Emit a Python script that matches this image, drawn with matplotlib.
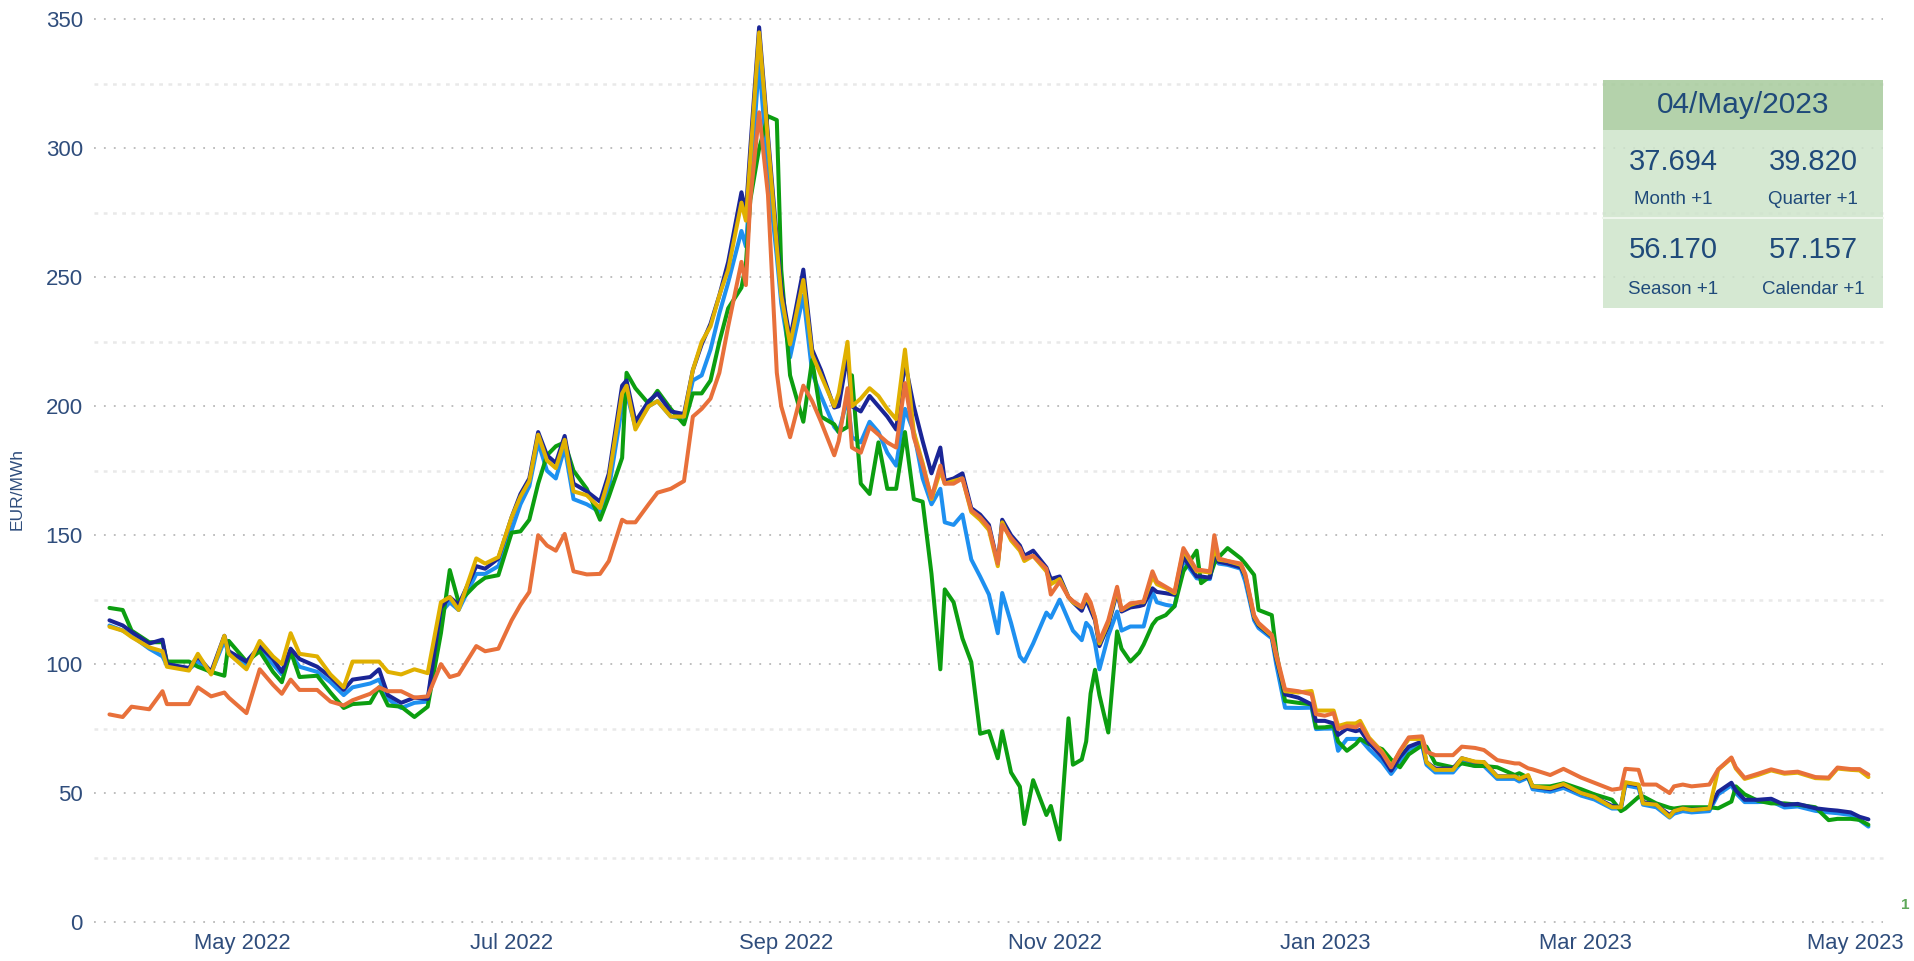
import matplotlib
matplotlib.use('Agg')
import matplotlib.pyplot as plt
from matplotlib.patches import Rectangle
from matplotlib.lines import Line2D
import pandas as pd

plt.rcParams['font.family'] = ['Liberation Sans', 'DejaVu Sans']

# ---------------- data ----------------
BASE_DATE = '2022-05-01'
day_offset = [
    -30, -27, -25, -21, -18, -17, -12, -10, -7, -4, -3, 1, 4, 7, 9, 11, 13, 17, 20, 23, 25, 29, 31, 33, 36, 39, 42,
    45, 47, 49, 53, 55, 58, 61, 63, 65, 67, 69, 71, 73, 75, 78, 81, 83, 86, 87, 89, 92, 94, 97, 100, 102, 104, 106, 108, 110, 113, 114, 115, 117, 119, 121, 122, 124, 127, 129, 131,
    134, 135, 137, 138, 140, 142, 144, 146, 148, 150, 152, 154, 156, 158, 159, 161, 163, 165, 167, 169, 171, 172, 174, 176, 177, 179, 182, 183, 185, 187, 188, 190, 191, 192, 193, 194, 196,
    198, 199, 201, 203, 204, 206, 207, 209, 211, 213, 216, 217, 219, 220, 221, 223, 226, 227, 229, 230, 233, 234, 236, 239, 242, 243, 245, 247, 248, 250, 252, 253, 255, 258, 260, 262, 264, 267,
    268, 270, 274, 276, 279, 281, 284, 288, 289, 291, 292, 296, 299, 303, 306, 310, 312, 313, 316, 317, 320, 323, 324, 326, 328, 332, 334, 337, 338, 340, 343, 346, 349, 352, 356, 359, 361, 364, 366, 368,
]

green = [
    121.8, 121, 113, 108.5, 108.5, 101, 101, 99, 97, 95.5, 109, 101, 105, 97, 93, 105, 95, 95.5, 89, 83, 84.5, 85, 91, 84, 83.5, 79.5, 83.5,
    112, 136.5, 124, 131, 133.5, 134.5, 151, 151.5, 156, 170, 181, 184.5, 186, 175, 168, 156, 165, 180, 213, 207, 201, 206, 199, 193, 205, 205, 210, 225, 238, 246, 255, 280, 300, 312.5, 311, 253, 212, 194, 218, 196,
    193, 190, 192, 212, 170, 166, 186, 168, 168, 190, 164, 163, 135, 98, 129, 124, 110, 100.8, 73, 74, 63.5, 74, 58, 52.5, 38, 55, 41.5, 45, 32, 79, 61, 63, 70, 88.6, 97.8, 88, 73.5,
    112.7, 106, 101, 104.5, 107.6, 115.3, 117.5, 119, 122.5, 136, 144, 131.4, 134, 139, 141.5, 145, 141, 139, 134.6, 121, 119, 105, 85.7, 85, 84.4, 75.4, 75.5, 76, 70, 66.4, 69, 71, 69, 67, 63, 60, 65, 68.5,
    68, 61.5, 60, 61.5, 60.5, 60.5, 60, 57, 57.7, 56, 52.6, 52.6, 53.8, 51.5, 49.5, 47.4, 43, 44, 48.5, 48.7, 46, 44.3, 44, 44.5, 44.5, 44.5, 44.1, 46.7, 52.6, 49.5, 47, 46, 46, 45.5, 44.5, 39.5, 40, 40, 39.6, 37.7,
]

dark_blue = [
    117, 115, 112.5, 108, 109.5, 100, 98.5, 103, 97, 111, 105, 101, 107, 102, 97, 106, 102, 99, 95, 90, 94, 95, 98, 88, 85, 87, 86.5,
    122, 126, 123, 138, 137, 141, 157, 166, 172, 190, 181, 178, 188.5, 170, 167, 163, 174, 208, 210, 194, 202, 205, 198, 197, 214, 224, 232, 243, 256, 283, 275, 300, 347, 305, 265, 246, 226, 253, 222, 214,
    199.5, 200, 220, 200, 198, 204, 200, 196, 191, 217, 200, 186.5, 174, 184, 171, 172, 174, 160.5, 158, 154, 139, 156, 150, 146, 142, 144, 137.5, 133, 134, 126, 124, 120.7, 125, 121, 117, 107, 115,
    128, 120.4, 122, 122.5, 123, 129.4, 128, 127.5, 126.9, 141.6, 134, 134, 133.5, 143, 139.7, 139, 137.5, 134, 118, 115, 110.7, 102, 88.3, 87, 84.4, 78, 78, 77, 72.5, 75, 74, 74.5, 69.5, 64, 58.7, 64, 68, 70,
    62, 59.5, 59.5, 63.5, 62, 62, 56.5, 56.5, 55.5, 56.5, 52.5, 51.5, 53, 50, 48.5, 45, 44.5, 54, 53, 46.5, 45.5, 41.5, 43, 44, 43.5, 44, 50.5, 54, 51, 47.4, 47.4, 47.8, 45.4, 45.8, 44.1, 43.5, 43.2, 42.5, 40.8, 39.8,
]

light_blue = [
    115, 113, 111, 106, 103, 99.5, 98, 101, 96.5, 109, 104, 100, 106, 100, 96, 104, 99, 97, 93, 88, 91, 92.5, 94, 86.5, 83, 85, 85.5,
    120, 124, 121, 135, 135, 138, 152, 162, 169, 186, 175, 172, 184, 164, 162, 159, 168, 200, 205, 192, 200, 202, 196, 195, 210, 212, 222, 236, 248, 268, 262, 285, 334, 290, 258, 240, 219, 243, 213, 204,
    192, 190, 203, 188, 186, 194, 190, 182, 177, 199, 190, 172, 162, 168, 155, 154, 158, 140.6, 134, 127, 112, 127.6, 116, 103, 101, 108, 120, 118, 125, 117, 113, 109.3, 116, 114, 108, 98, 111,
    120.4, 113, 114.6, 114.6, 114.6, 128, 124, 123, 122.4, 140.4, 133.3, 133, 133, 142, 139, 138.5, 137, 132, 117, 114, 110, 100, 83.1, 83, 83.1, 74.8, 75, 75, 66.4, 71, 71, 71, 67, 62, 57.4, 62, 67, 68.5,
    61, 58, 58, 62, 60.5, 60.5, 55.5, 55.5, 54.5, 56, 51.5, 50.5, 52, 49, 47.5, 44, 44, 53, 52, 45.5, 44.5, 40.5, 42, 43, 42.5, 43, 49.5, 53, 50, 46.5, 46.5, 46.8, 44.4, 44.8, 43.1, 42.5, 42.2, 41.5, 39.5, 37.0,
]

gold = [
    114.5, 113, 110.5, 106.5, 105, 99, 97.5, 104, 96, 111, 104, 98, 109, 103, 100, 112, 104, 103, 96, 91, 101, 101, 101, 97, 96, 98, 96.5,
    124, 126, 121, 141, 139, 141.5, 157, 165, 171, 189, 179, 176, 187, 167, 165.5, 160.5, 172, 205, 208, 191, 200, 202, 196, 196, 214, 225, 231, 243, 253, 279, 272, 296, 345, 303, 262, 243, 224, 249, 220, 212,
    200, 205, 225, 200, 203, 207, 204, 199, 195, 222, 190, 178, 164, 175, 170, 171, 172, 159, 156, 152, 138, 155, 148, 144, 140, 142, 136, 131, 133, 126, 124, 122, 126, 123, 118, 108, 116,
    129, 121, 123, 124, 124, 134, 131, 129.5, 127.5, 144, 136, 136, 135.5, 145, 140.5, 140, 138.5, 134.5, 118.5, 115.5, 111, 103, 89.5, 89, 89.6, 82, 82, 82, 76, 77, 77, 78, 71.5, 66, 60.5, 66, 71, 71,
    62, 59, 59, 63.5, 62.2, 62, 56.4, 56.5, 55.5, 57, 52.6, 51.9, 53.5, 50, 48.5, 44.5, 44.5, 54.2, 53.3, 46, 45.5, 40.8, 43, 44, 43.4, 44, 59, 63.5, 59.5, 55.5, 57, 58.8, 57.5, 57.9, 55.8, 55.6, 59.5, 59, 58.8, 56.2,
]

orange = [
    80.5, 79.5, 83.5, 82.5, 89.5, 84.5, 84.5, 91, 87.5, 89, 87, 81, 98, 92, 88.5, 94, 90, 90, 85.5, 84, 86, 88.5, 91, 89.5, 89.5, 87, 87.5,
    100, 95, 96, 107, 105, 106, 117, 123, 128, 150, 146, 144, 150.5, 136, 134.8, 135, 140, 156, 155, 155, 162, 166.5, 168, 171, 196, 199, 203, 213, 231, 256, 247, 280, 314, 282, 213, 200, 188, 208, 202, 194,
    181, 186.5, 207, 184, 182, 192, 189, 186, 184, 209, 188, 177, 164.5, 177, 170, 170, 172, 159.7, 157, 153, 139, 154, 149, 145, 141, 142, 137, 127, 132, 126, 124.5, 122.2, 127, 124, 118, 109, 117,
    130, 121, 123.6, 124, 124.3, 136, 132, 130, 128, 145, 136.5, 136.5, 136, 150, 141, 140, 139, 135, 119, 116, 111.4, 104, 90.2, 89.5, 88.3, 80.6, 80, 81, 74.8, 76, 75.5, 76.7, 70.9, 65.5, 60, 66.4, 71.6, 72,
    66, 64.7, 64.7, 68, 67.5, 66.7, 62.8, 61.5, 61.5, 59.6, 59.2, 57, 59.4, 56, 54, 51.3, 51.8, 59.4, 59, 53.3, 53.3, 50, 52.6, 53.3, 52.6, 53.3, 59.2, 63.8, 60, 55.9, 57.5, 59.2, 57.9, 58.3, 56.2, 56, 59.9, 59.3, 59.3, 57.2,
]

y_ticks = [0, 50, 100, 150, 200, 250, 300, 350]
y_minor_ticks = [25, 75, 125, 175, 225, 275, 325]
x_tick_dates = ['2022-05-01', '2022-07-01', '2022-09-01', '2022-11-01', '2023-01-01', '2023-03-01', '2023-05-01']
x_tick_labels = ['May 2022', 'Jul 2022', 'Sep 2022', 'Nov 2022', 'Jan 2023', 'Mar 2023', 'May 2023']
y_label = 'EUR/MWh'
box_date = '04/May/2023'
box_values = ['37.694', '39.820', '56.170', '57.157']
box_labels = ['Month +1', 'Quarter +1', 'Season +1', 'Calendar +1']

# ---------------- figure ----------------
W, H = 1915, 961
fig = plt.figure(figsize=(W / 100, H / 100), dpi=100)
fig.patch.set_facecolor('white')


def fx(x):
    return x / W


def fy(y):
    return 1 - y / H


ax_left, ax_right, ax_top, ax_bottom = 94, 1883, 19.5, 922
ax = fig.add_axes([fx(ax_left), fy(ax_bottom), (ax_right - ax_left) / W, (ax_bottom - ax_top) / H])

base = pd.Timestamp(BASE_DATE)
dates = base + pd.to_timedelta(day_offset, unit='D')

series = [
    (light_blue, '#1e90f0', 3),
    (green, '#0c9e10', 4),
    (dark_blue, '#1a2596', 5),
    (gold, '#e0b000', 6),
    (orange, '#e8703a', 7),
]
for vals, col, z in series:
    ax.plot(dates, vals, color=col, lw=2.9, solid_joinstyle='round', solid_capstyle='round',
            zorder=z, clip_on=False)

ax.set_ylim(0, 350)
ax.set_xlim(base + pd.Timedelta(days=-33.5), base + pd.Timedelta(days=371.3))

for v in y_ticks:
    ax.axhline(v, color='#b9b9b9', lw=1.3, linestyle=(0, (1, 4.5)), zorder=1, clip_on=False)
for v in y_minor_ticks:
    ax.axhline(v, color='#e9e9e9', lw=1.8, linestyle=(0, (1.5, 2.2)), zorder=1, clip_on=False)

ax.set_yticks(y_ticks)
ax.set_yticklabels([str(v) for v in y_ticks])
ax.set_xticks(pd.to_datetime(x_tick_dates))
ax.set_xticklabels(x_tick_labels)
tick_col = '#2f4d7c'
ax.tick_params(axis='y', length=0, pad=8, labelsize=16, labelcolor=tick_col)
ax.tick_params(axis='x', length=0, pad=8, labelsize=15.8, labelcolor=tick_col)
for s in ax.spines.values():
    s.set_visible(False)
ax.set_facecolor('none')

fig.text(fx(17), fy(489), y_label, rotation=90, ha='center', va='center',
         fontsize=12.5, color=tick_col)

# ---------------- info box ----------------
bx0, bx1, by_top, by_head, by_div, by_bot = 1603, 1883, 80, 130, 218, 308
fig.patches.append(Rectangle((fx(bx0), fy(by_bot)), (bx1 - bx0) / W, (by_bot - by_head) / H,
                             transform=fig.transFigure, facecolor='#cee4cb', alpha=0.85,
                             edgecolor='none', zorder=10))
fig.patches.append(Rectangle((fx(bx0), fy(by_head)), (bx1 - bx0) / W, (by_head - by_top) / H,
                             transform=fig.transFigure, facecolor='#a7cb9c', alpha=0.85,
                             edgecolor='none', zorder=10))
fig.lines.append(Line2D([fx(bx0), fx(bx1)], [fy(by_div), fy(by_div)], transform=fig.transFigure,
                        color='#eef6ec', lw=1.5, zorder=11))

box_col = '#1f4a7a'
fig.text(fx(1743), fy(105), box_date, ha='center', va='center', fontsize=21.5, color=box_col, zorder=12)
cols = [1673, 1813]
val_rows = [162, 250]
lab_rows = [200, 290]
for i in range(4):
    r, c = divmod(i, 2)
    fig.text(fx(cols[c]), fy(val_rows[r]), box_values[i], ha='center', va='center',
             fontsize=21, color=box_col, zorder=12)
    fig.text(fx(cols[c]), fy(lab_rows[r]), box_labels[i], ha='center', va='center',
             fontsize=13.5, color=box_col, zorder=12)

fig.text(fx(1905), fy(905), '1', ha='center', va='center', fontsize=11, fontweight='bold',
         color='#5fa85a')

fig.savefig('out.png', dpi=100, facecolor='white')
